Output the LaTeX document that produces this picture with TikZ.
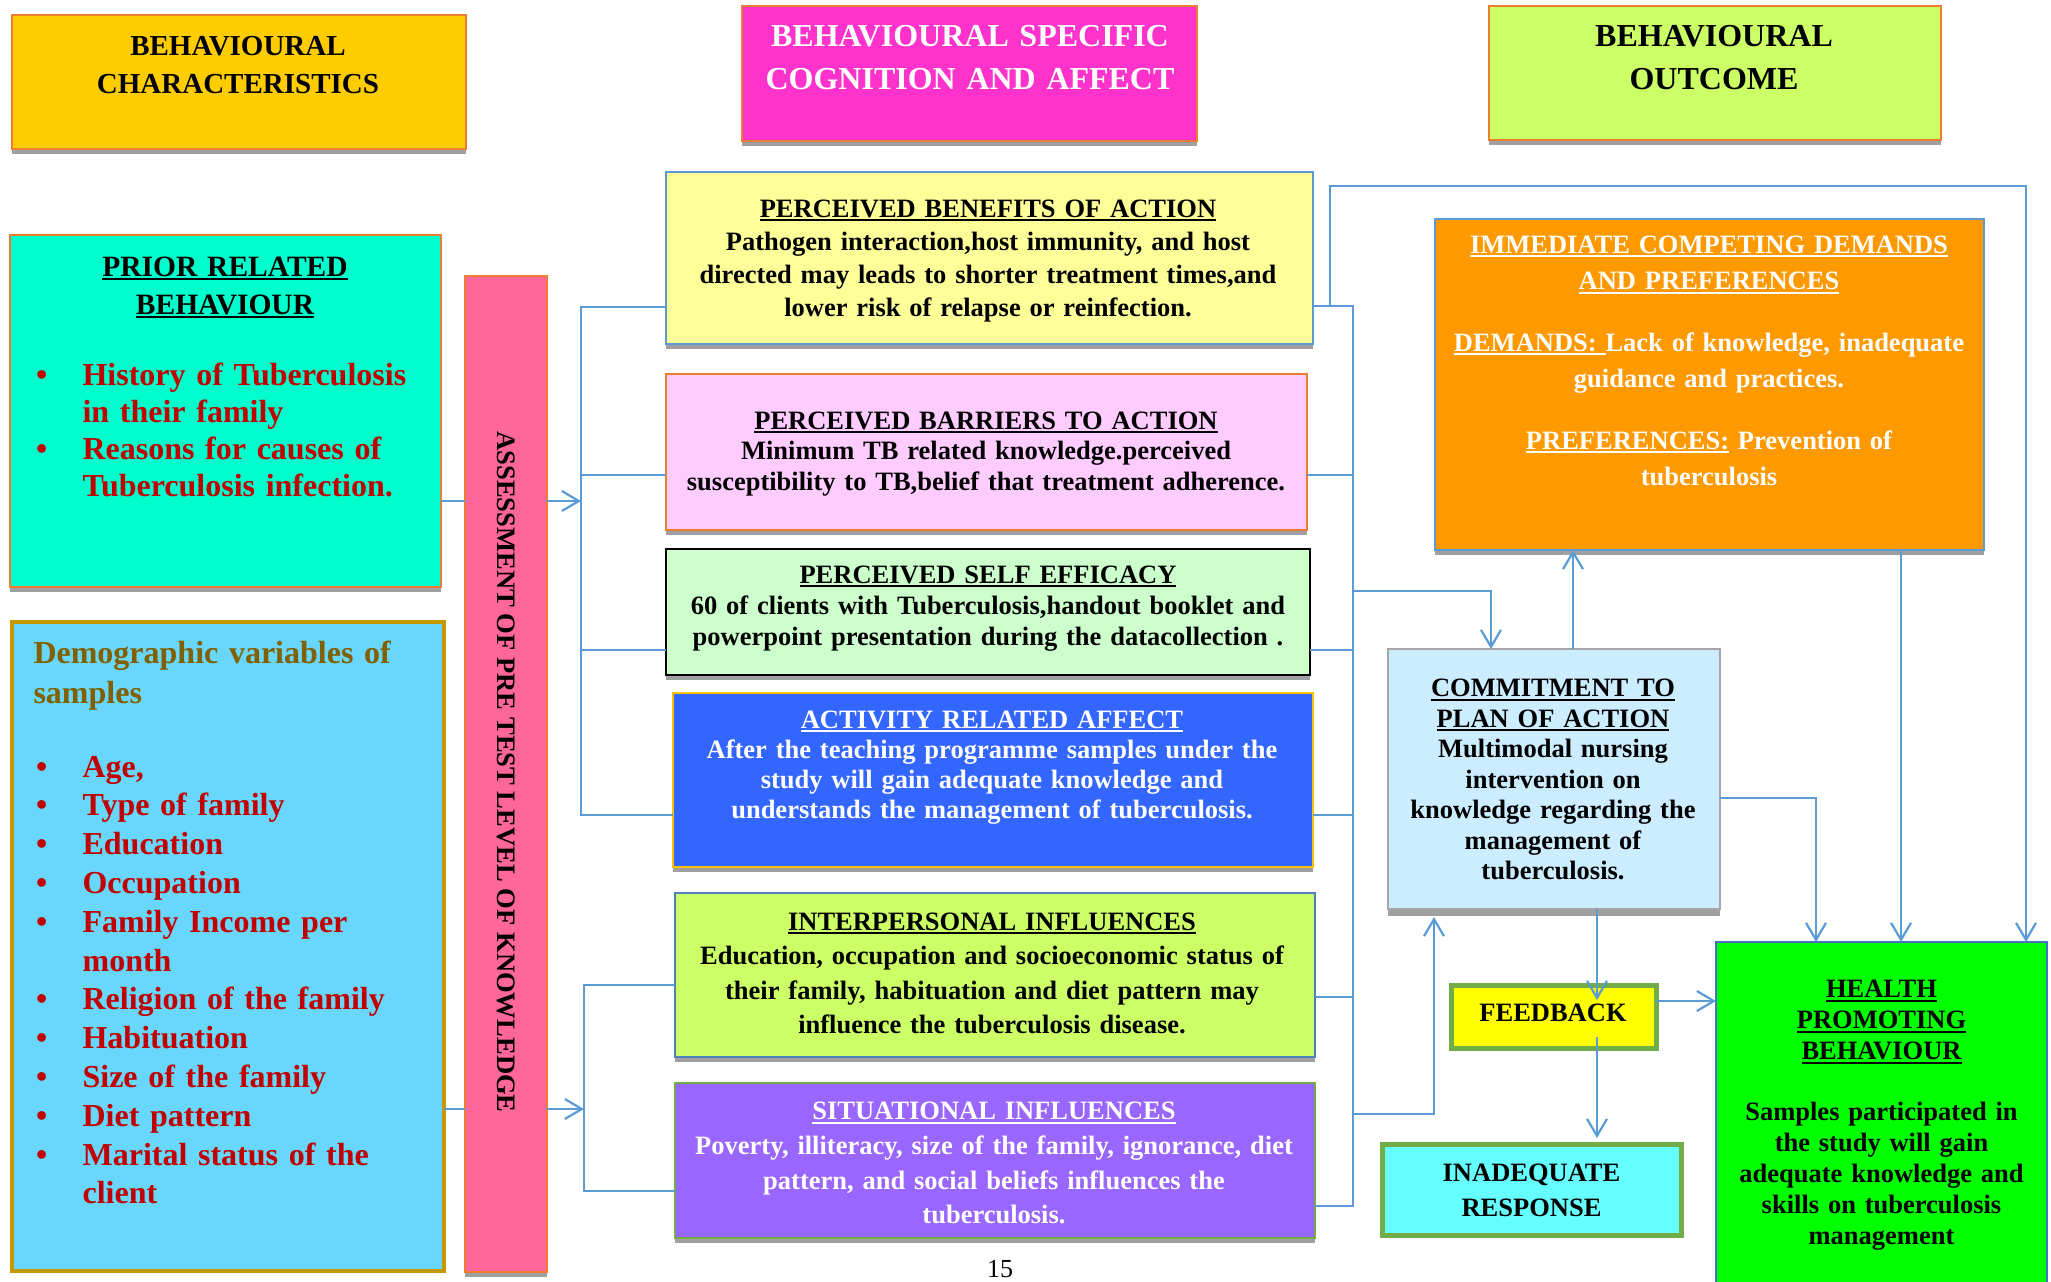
\documentclass[tikz,border=0pt]{standalone}
\usepackage{fontspec}
\setmainfont{Liberation Serif}
\usetikzlibrary{arrows.meta,shadows,fit}
\definecolor{orB}{HTML}{ED7D31}
\definecolor{blB}{HTML}{5B9BD5}
\definecolor{lineblue}{HTML}{5B9BD5}
\definecolor{shadowgray}{HTML}{A0A0A0}
\definecolor{hOne}{HTML}{FFCC00}
\definecolor{hTwo}{HTML}{FF33CC}
\definecolor{hThree}{HTML}{CCFF66}
\definecolor{priorC}{HTML}{00FFCC}
\definecolor{demoC}{HTML}{69D6FC}
\definecolor{demoB}{HTML}{C49A00}
\definecolor{assessC}{HTML}{FF6699}
\definecolor{benC}{HTML}{FFFF99}
\definecolor{barC}{HTML}{FFCCFF}
\definecolor{selfC}{HTML}{CCFFCC}
\definecolor{actC}{HTML}{3366FF}
\definecolor{actB}{HTML}{FFC000}
\definecolor{intC}{HTML}{CCFF66}
\definecolor{intB}{HTML}{4F81BD}
\definecolor{sitC}{HTML}{9966FF}
\definecolor{grB}{HTML}{70AD47}
\definecolor{icdC}{HTML}{FF9900}
\definecolor{comC}{HTML}{CCECFF}
\definecolor{comB}{HTML}{A6A6A6}
\definecolor{fbC}{HTML}{FFFF00}
\definecolor{inC}{HTML}{66FFFF}
\definecolor{hpbC}{HTML}{00FF00}
\definecolor{hpbB}{HTML}{4472C4}
\definecolor{redT}{HTML}{C00000}
\definecolor{oliveT}{HTML}{806000}
\newcommand\ulx[1]{\setbox0=\hbox{#1}\leavevmode\rlap{\rule[-2.2pt]{\wd0}{1pt}}\box0\relax}
\newcommand\bulx{\makebox[23.3pt][l]{•}}
\newcommand\indx{\hspace*{23.3pt}}
\begin{document}
\begin{tikzpicture}[x=0.5pt,y=-0.5pt,
  box/.style={draw=orB, line width=1pt, inner sep=0pt, outer sep=0pt},
  shad/.style={drop shadow={shadow xshift=0pt,shadow yshift=-2.5pt,fill=shadowgray,opacity=1}},
  txt/.style={inner sep=0pt, outer sep=0pt, align=center, anchor=base},
  mid/.style={txt, font=\bfseries\fontsize{13.25}{16}\selectfont, text width=320pt},
  lst/.style={inner sep=0pt, outer sep=0pt, anchor=base west, align=left, text width=210pt},
  conn/.style={draw=lineblue, line width=1.1pt, line join=miter},
  arr/.style={conn, -{Straight Barb[length=8.5pt,width=10pt]}}
]
\fill[white] (0,0) rectangle (2051,1281);
\useasboundingbox (0,0) rectangle (2051,1281);

% boxes
\node[box, fill=hOne, shad, fit={(12,15) (466,149)}] (h1) {};
\node[box, fill=hTwo, shad, fit={(742,6) (1197,141)}] (h2) {};
\node[box, fill=hThree, shad, fit={(1489,6) (1941,140)}] (h3) {};
\node[box, fill=priorC, shad, fit={(10,235) (441,587)}] (prior) {};
\node[box, draw=demoB, line width=2pt, fill=demoC, fit={(12,622) (444,1271)}] (demo) {};
\node[box, fill=assessC, shad, fit={(465,276) (547,1272)}] (assess) {};
\node[box, draw=blB, fill=benC, shad, fit={(666,172) (1313,344)}] (ben) {};
\node[box, fill=barC, shad, fit={(666,374) (1307,530)}] (bar) {};
\node[box, draw=black, line width=1.3pt, fill=selfC, shad, fit={(666,549) (1310,675)}] (self) {};
\node[box, draw=actB, line width=0.7pt, fill=actC, shad, fit={(673,693) (1313,867)}] (act) {};
\node[box, draw=intB, fill=intC, shad, fit={(675,893) (1315,1057)}] (inter) {};
\node[box, draw=grB, fill=sitC, shad, fit={(675,1083) (1315,1238)}] (sit) {};
\node[box, draw=blB, fill=icdC, shad, fit={(1435,219) (1984,550)}] (icd) {};
\node[box, draw=comB, fill=comC, drop shadow={shadow xshift=0pt,shadow yshift=-3.5pt,fill=shadowgray,opacity=1}, fit={(1388,649) (1720,909)}] (com) {};
\node[box, draw=grB, line width=2.5pt, fill=fbC, fit={(1451,985) (1656,1048)}] (fb) {};
\node[box, draw=grB, line width=2.5pt, fill=inC, fit={(1382,1144) (1681,1235)}] (inad) {};
\node[box, draw=hpbB, fill=hpbC, fit={(1716,942) (2047,1300)}] (hpb) {};

% helper coordinates
\coordinate (bU) at (581,501);
\coordinate (bL) at (584,1109);
\coordinate (yBen) at (0,307);
\coordinate (yBar) at (0,475);
\coordinate (ySelf) at (0,650);
\coordinate (yAct) at (0,815);
\coordinate (yInt) at (0,985);
\coordinate (ySit) at (0,1191);
\coordinate (yBenR) at (0,306);
\coordinate (yIntR) at (0,997);
\coordinate (ySitR) at (0,1206);
\coordinate (spTop) at (1353,306);
\coordinate (spBot) at (1353,1206);
\coordinate (xLoop) at (2026,0);
\coordinate (xA) at (1491,0);
\coordinate (xB) at (1573,0);
\coordinate (xC) at (1901,0);
\coordinate (xD) at (1816,0);
\coordinate (xE) at (1597,0);
\coordinate (yC) at (0,798);
\coordinate (yF) at (0,1001);

% left connectors
\draw[conn] (prior.east |- bU) -- (assess.west |- bU);
\draw[arr] (assess.east |- bU) -- (bU);
\draw[conn] (demo.east |- bL) -- (assess.west |- bL);
\draw[arr] (assess.east |- bL) -- (bL);
\draw[conn] (ben.west |- yBen) -- (581,307) -- (581,815) -- (act.west |- yAct);
\draw[conn] (581,475) -- (bar.west |- yBar);
\draw[conn] (581,650) -- (self.west |- ySelf);
\draw[conn] (inter.west |- yInt) -- (584,985) -- (584,1191) -- (sit.west |- ySit);

% right spine
\draw[conn] (ben.east |- yBenR) -- (spTop) -- (spBot) -- (sit.east |- ySitR);
\draw[conn] (bar.east |- yBar) -- (1353,475);
\draw[conn] (self.east |- ySelf) -- (1353,650);
\draw[conn] (act.east |- yAct) -- (1353,815);
\draw[conn] (inter.east |- yIntR) -- (1353,997);
\draw[arr] (1330,306) -- (1330,186) -- (2026,186) -- (hpb.north -| xLoop);
\draw[arr] (1353,591) -- (1491,591) -- (com.north -| xA);
\draw[arr] (1353,1114) -- (1434,1114) -- (1434,917);
\draw[arr] (com.north -| xB) -- (icd.south -| xB);
\draw[arr] (icd.south -| xC) -- (hpb.north -| xC);
\draw[arr] (com.east |- yC) -- (1816,798) -- (hpb.north -| xD);
\draw[arr] (com.south -| xE) -- (1597,1000);
\draw[arr] (fb.east |- yF) -- (hpb.west |- yF);
\draw[arr] (1597,1037) -- (1597,1138);

% texts
\node[txt, font=\bfseries\fontsize{14.5}{19}\selectfont, text width=220pt] (h1t) at (238,55) {BEHAVIOURAL\\CHARACTERISTICS};
\node[txt, text=white, font=\bfseries\fontsize{16}{21.5}\selectfont, text width=225pt] (h2t) at (970,46) {BEHAVIOURAL SPECIFIC\\COGNITION AND AFFECT};
\node[txt, font=\bfseries\fontsize{16}{21.5}\selectfont, text width=225pt] (h3t) at (1714,46) {BEHAVIOURAL\\OUTCOME};

\node[txt, font=\bfseries\fontsize{14.75}{19}\selectfont, text width=210pt] (priort) at (225,276) {\ulx{PRIOR RELATED}\\\ulx{BEHAVIOUR}};
\node[lst, text=redT, font=\bfseries\fontsize{16}{18.65}\selectfont] (priorl) at (36,385)
  {\bulx History of Tuberculosis\\\indx in their family\\\bulx Reasons for  causes of\\\indx Tuberculosis infection.};

\node[lst, text=oliveT, font=\bfseries\fontsize{16}{20.25}\selectfont] (demot) at (33.5,663) {Demographic variables of\\samples};
\node[lst, text=redT, font=\bfseries\fontsize{16}{19.4}\selectfont] (demol) at (36,777)
  {\bulx Age,\\\bulx Type of family\\\bulx Education\\\bulx Occupation\\\bulx Family Income per\\\indx month\\\bulx Religion of the family\\\bulx Habituation\\\bulx Size of the family\\\bulx Diet pattern\\\bulx Marital status of the\\\indx client};

\node[inner sep=0pt, rotate=-90, font=\bfseries\fontsize{13.3}{16}\selectfont] (assesst) at (506,772) {ASSESSMENT OF PRE TEST LEVEL OF KNOWLEDGE};

\node[mid, font=\bfseries\fontsize{13.25}{16.5}\selectfont] (bent) at (988,217)
  {\ulx{PERCEIVED BENEFITS OF ACTION}\\Pathogen interaction,host immunity, and host\\directed may leads to shorter treatment times,and\\lower risk of relapse or reinfection.};
\node[mid, font=\bfseries\fontsize{13.25}{15.25}\selectfont] (bart) at (986,429)
  {\ulx{PERCEIVED BARRIERS TO ACTION}\\Minimum TB related knowledge.perceived\\susceptibility to TB,belief that treatment adherence.};
\node[mid, font=\bfseries\fontsize{13.25}{15.5}\selectfont] (selft) at (988,583)
  {\ulx{PERCEIVED SELF EFFICACY}\\60 of clients with Tuberculosis,handout booklet and\\powerpoint presentation during the datacollection .};
\node[mid, text=white, font=\bfseries\fontsize{13.25}{15}\selectfont] (actt) at (992,728)
  {\ulx{ACTIVITY RELATED AFFECT}\\After the teaching programme samples under the\\study will gain adequate knowledge and\\understands the management of tuberculosis.};
\node[mid, font=\bfseries\fontsize{13.25}{17.3}\selectfont] (intert) at (992,930)
  {\ulx{INTERPERSONAL INFLUENCES}\\Education, occupation and socioeconomic status of\\their family, habituation and diet pattern may\\influence the tuberculosis disease.};
\node[mid, text=white, font=\bfseries\fontsize{13.25}{17.4}\selectfont] (sitt) at (994,1119.5)
  {\ulx{SITUATIONAL INFLUENCES}\\Poverty, illiteracy, size of the family, ignorance, diet\\pattern, and social beliefs influences the\\tuberculosis.};

\node[txt, text=white, font=\bfseries\fontsize{13.25}{18.25}\selectfont, text width=270pt] (icdt) at (1709,253)
  {\ulx{IMMEDIATE COMPETING DEMANDS}\\\ulx{AND PREFERENCES}\\[12.5pt]\ulx{DEMANDS: }Lack of knowledge, inadequate\\guidance and practices.\\[12.5pt]\ulx{PREFERENCES:} Prevention of\\tuberculosis};
\node[txt, font=\bfseries\fontsize{13.25}{15.25}\selectfont, text width=160pt] (comt) at (1553,696.5)
  {\ulx{COMMITMENT TO}\\\ulx{PLAN OF ACTION}\\Multimodal nursing\\intervention on\\knowledge regarding the\\management of\\tuberculosis.};
\node[txt, font=\bfseries\fontsize{13.25}{16}\selectfont, text width=100pt] (fbt) at (1553,1021) {FEEDBACK};
\node[txt, font=\bfseries\fontsize{13.25}{17.4}\selectfont, text width=140pt] (inadt) at (1531.5,1181.7) {INADEQUATE\\RESPONSE};
\node[txt, font=\bfseries\fontsize{13.25}{15.5}\selectfont, text width=160pt] (hpbt) at (1881.5,997.8)
  {\ulx{HEALTH}\\\ulx{PROMOTING}\\\ulx{BEHAVIOUR}\\[15pt]Samples  participated in\\the study will gain\\adequate knowledge and\\skills on tuberculosis\\management};
\node[txt, font=\fontsize{13}{15}\selectfont] (pg) at (1000,1277) {15};
\end{tikzpicture}
\end{document}
